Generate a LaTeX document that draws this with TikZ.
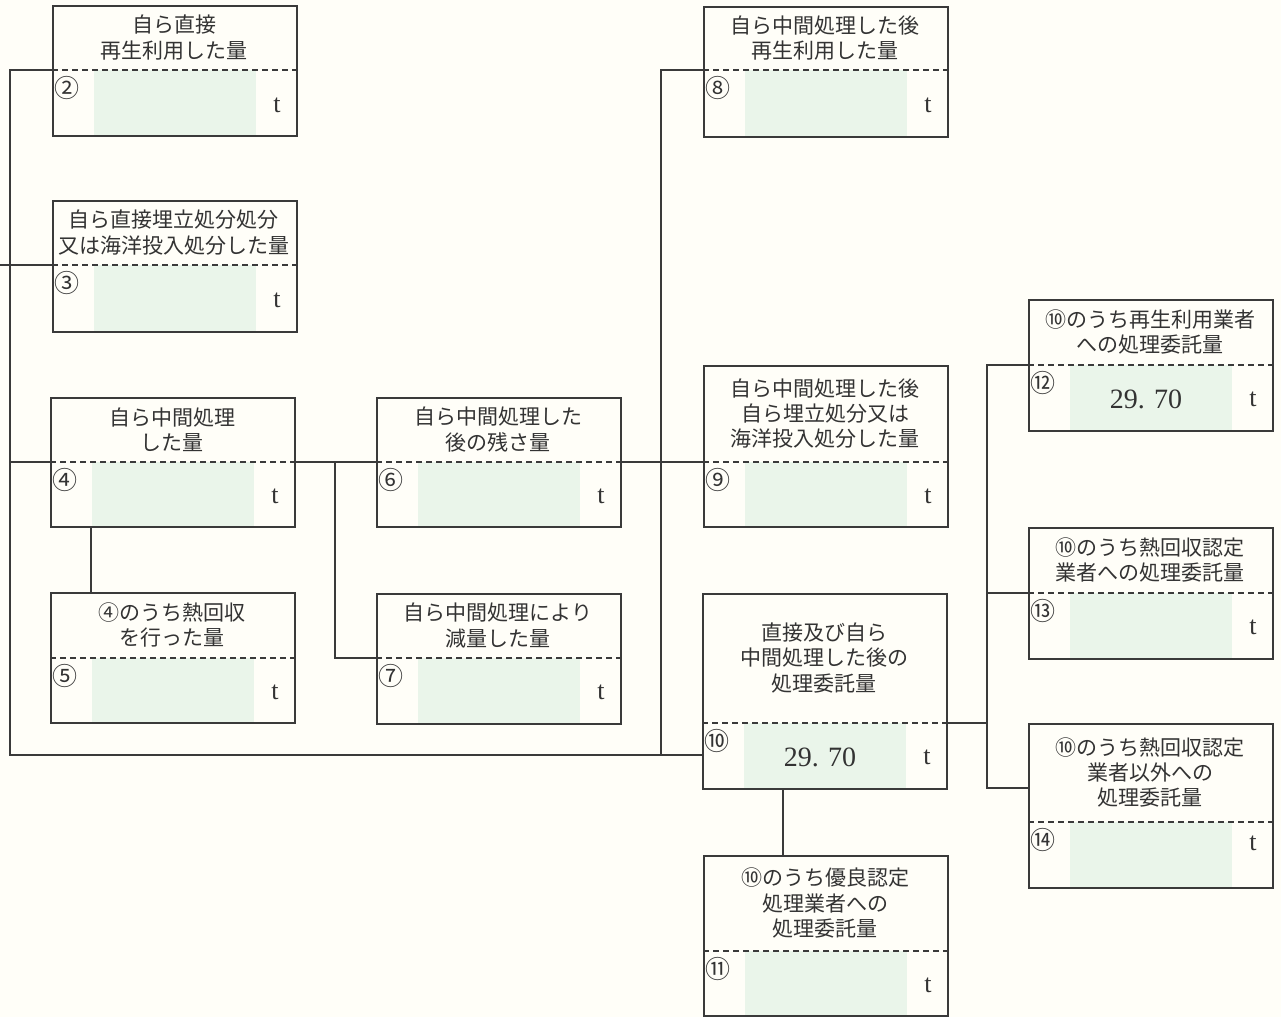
\documentclass[tikz,border=0pt]{standalone}
\usepackage{fontspec}
\setmainfont{Liberation Serif}
\newfontfamily\jp{Noto Sans CJK JP}
\usepackage{tikz}
\usetikzlibrary{positioning}
\usepackage{xcolor}
\definecolor{linec}{HTML}{3A3A3A}
\definecolor{textc}{HTML}{333333}
\definecolor{fillgreen}{HTML}{EAF5EA}
\definecolor{paper}{HTML}{FFFEF8}

\tikzset{
  qbox/.style={draw=linec, line width=1pt, rectangle, inner sep=0pt, minimum width=122pt, anchor=north west},
  qtitle/.style={align=center, text=textc, inner sep=0pt, font=\jp\fontsize{10.5}{12.6}\selectfont},
  qnum/.style={text=textc, inner sep=0pt, font=\jp\fontsize{12.5}{13}\selectfont},
  qval/.style={text=textc, inner sep=0pt, font=\fontsize{14}{16}\selectfont},
  qunit/.style={text=textc, inner sep=0pt, font=\fontsize{13}{15}\selectfont},
  sep/.style={draw=linec, line width=0.8pt, dash pattern=on 3pt off 2pt},
  link/.style={draw=linec, line width=0.9pt}
}

% #1 name, #2 left, #3 top, #4 dashed line, #5 bottom, #6 number, #7 title, #8 value, #9 drop of t
\newcommand{\qtybox}[9]{%
  \fill[fillgreen] (#2+42,#4) rectangle (#2+204,#5);
  \node[qbox, minimum height={(#5-#3)*0.5pt}] (#1) at (#2,#3) {};
  \coordinate (#1-dw) at (#2,#4);
  \coordinate (#1-de) at (#2+244,#4);
  \draw[sep] (#1-dw) -- (#1-de);
  \node[qtitle] (#1-t) at (#2+122,{(#3+#4)/2}) {#7};
  \node[qnum] (#1-n) at (#2+15,#4+18) {#6};
  \if\relax\detokenize{#8}\relax\else
    \node[qval] (#1-v) at (#2+118,#4+34) {#8};
  \fi
  \node[qunit] (#1-u) at (#2+225,#4+#9) {t};
}

\begin{document}
\begin{tikzpicture}[x=0.5pt,y=-0.5pt]
\fill[paper] (0,0) rectangle (1281,1017);
\useasboundingbox (0,0) rectangle (1281,1017);

\qtybox{b2}{52}{5}{70}{135}{②}{自ら直接\\再生利用した量}{}{35}
\qtybox{b3}{52}{200}{265}{331}{③}{自ら直接埋立処分処分\\又は海洋投入処分した量}{}{35}
\qtybox{b4}{50}{397}{462}{526}{④}{自ら中間処理\\した量}{}{34}
\qtybox{b5}{50}{592}{658}{722}{⑤}{④のうち熱回収\\を行った量}{}{34}
\qtybox{b6}{376}{397}{462}{526}{⑥}{自ら中間処理した\\後の残さ量}{}{34}
\qtybox{b7}{376}{593}{658}{723}{⑦}{自ら中間処理により\\減量した量}{}{34}
\qtybox{b8}{703}{6}{70}{136}{⑧}{自ら中間処理した後\\再生利用した量}{}{35}
\qtybox{b9}{703}{365}{462}{526}{⑨}{自ら中間処理した後\\自ら埋立処分又は\\海洋投入処分した量}{}{34}
\qtybox{b10}{702}{593}{723}{788}{⑩}{直接及び自ら\\中間処理した後の\\処理委託量}{29. 70}{34}
\qtybox{b11}{703}{855}{951}{1015}{⑪}{⑩のうち優良認定\\処理業者への\\処理委託量}{}{34}
\qtybox{b12}{1028}{299}{365}{430}{⑫}{⑩のうち再生利用業者\\への処理委託量}{29. 70}{34}
\qtybox{b13}{1028}{527}{593}{658}{⑬}{⑩のうち熱回収認定\\業者への処理委託量}{}{34}
\qtybox{b14}{1028}{723}{822}{887}{⑭}{⑩のうち熱回収認定\\業者以外への\\処理委託量}{}{21}

% trunk on the left
\coordinate (lb) at (10,755);
\coordinate (in3) at (0,265);
\draw[link] (b2-dw) -| (lb) -- (lb -| b10.west);
\draw[link] (lb |- b4-dw) -- (b4-dw);
\draw[link] (in3) -- (b3-dw);
\draw[link] (b4.south -| 91,0) -- (b5.north -| 91,0);

% intermediate treatment
\coordinate (s7) at (335,462);
\draw[link] (b4-de) -- (b6-dw);
\draw[link] (s7) |- (b7-dw);
\draw[link] (b6-de) -- (b9-dw);
\coordinate (s8) at (661,755);
\draw[link] (b8-dw) -| (s8);

% consigned
\coordinate (s14) at (987,788);
\draw[link] (b10-de) -- (s14 |- b10-de);
\draw[link] (b12-dw) -| (s14) -- (s14 -| b14.west);
\draw[link] (s14 |- b13-dw) -- (b13-dw);
\draw[link] (b10.south -| 783,0) -- (b11.north -| 783,0);
\end{tikzpicture}
\end{document}
